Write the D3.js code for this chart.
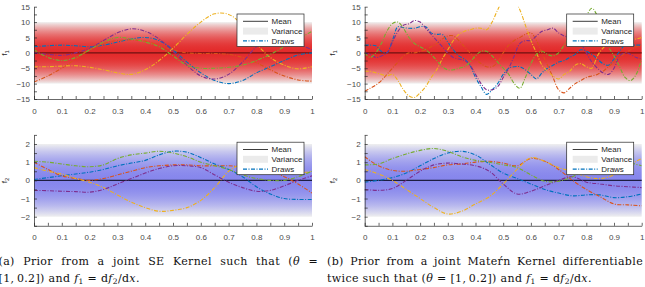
<!DOCTYPE html>
<html>
<head>
<meta charset="utf-8">
<script src="https://cdn.jsdelivr.net/npm/d3@7"></script>
<style>
  body { margin: 0; background: #fff; }
  svg { display: block; }
  text { font-family: "Liberation Sans", Arial, sans-serif; }
  .tick text { fill: #4a4a4a; font-size: 8px; }
  .cap { font-family: "DejaVu Serif", "Liberation Serif", serif; font-size: 11px; letter-spacing: 0.35px; fill: #111; }
</style>
</head>
<body>
<svg id="fig" width="645" height="287"></svg>
<script>
// x grids of the sampled draws
var xCoarse = [0, 0.05, 0.1, 0.15, 0.2, 0.25, 0.3, 0.35, 0.4, 0.45, 0.5,
  0.55, 0.6, 0.65, 0.7, 0.75, 0.8, 0.85, 0.9, 0.95, 1];
var xFine = [0, 0.02, 0.04, 0.06, 0.08, 0.1, 0.12, 0.14, 0.16, 0.18, 0.2,
  0.22, 0.24, 0.26, 0.28, 0.3, 0.32, 0.34, 0.36, 0.38, 0.4,
  0.42, 0.44, 0.46, 0.48, 0.5, 0.52, 0.54, 0.56, 0.58, 0.6,
  0.62, 0.64, 0.66, 0.68, 0.7, 0.72, 0.74, 0.76, 0.78, 0.8,
  0.82, 0.84, 0.86, 0.88, 0.9, 0.92, 0.94, 0.96, 0.98, 1];

var drawNames = ["blue", "orange", "yellow", "purple", "green"];
var drawColors = ["#0072BD", "#D95319", "#EDB120", "#7E2F8E", "#77AC30"];

// (a) SE kernel, f1
var seF1Blue   = [2, 2.3, 2.5, 2.3, 2, 2.5, 3.5, 4.5, 5, 4, 1, -3, -6.5, -9, -10, -9, -6.5, -4.5, -2.5, -0.7, 0];
var seF1Orange = [-9.5, -7.5, -5, -2, 1, 3, 4, 4.2, 3.8, 2.5, 1, 0, -0.2, -0.2, -0.5, -1.5, -3.2, -5.5, -7.5, -8.8, -9.2];
var seF1Yellow = [-4.5, -4.5, -4.3, -4.2, -4.7, -5.5, -6.5, -7, -5.5, -2.5, 1.5, 6, 10, 12.7, 12.5, 9, 3, -1.5, -4, -5.2, -4.5];
var seF1Purple = [0, -0.5, -0.8, 0, 1.5, 4, 6.5, 7.8, 7, 4.5, 0.5, -4, -7.5, -8.5, -7, -3, 2, 5, 5, 3, 1];
var seF1Green  = [1, -1.5, -2.5, -1.5, 1, 3.5, 5, 4.5, 3.5, 2, -1, -4, -5, -5, -4.7, -4, -2.5, -0.5, 2, 4.5, 7];

// (a) SE kernel, f2
var seF2Blue   = [0.05, 0.15, 0.25, 0.35, 0.45, 0.6, 0.8, 0.95, 1.1, 1.4, 1.6, 1.55, 1.25, 0.9, 0.6, 0.2, -0.35, -0.75, -1, -1.05, -1.05];
var seF2Orange = [1, 0.6, 0.25, 0.1, 0, 0.1, 0.3, 0.5, 0.7, 0.8, 0.85, 0.85, 0.8, 0.8, 0.8, 0.75, 0.7, 0.5, 0.2, -0.2, -0.7];
var seF2Yellow = [0.7, 0.5, 0.35, 0.1, -0.1, -0.4, -0.8, -1.2, -1.5, -1.7, -1.65, -1.5, -1.1, -0.4, 0.5, 0.9, 0.9, 0.7, 0.5, 0.4, 0.5];
var seF2Purple = [-0.55, -0.57, -0.6, -0.62, -0.65, -0.5, -0.2, 0.1, 0.4, 0.65, 0.8, 0.8, 0.7, 0.3, -0.1, -0.4, -0.6, -0.55, -0.3, 0, 0.25];
var seF2Green  = [1.05, 1, 0.9, 0.8, 0.75, 0.85, 1.2, 1.4, 1.5, 1.6, 1.5, 1.3, 1, 0.8, 0.6, 0.3, 0.1, 0, 0, 0.2, 0.5];

// (b) Matern kernel, f1
var maF1Blue   = [2.5, 2.5, 2.3, 0.5, 0, 4, 8.5, 8.2, 8, 8, 8.5, 8.5, 6.5, 6, 6, 3.5, 1, -1, -2, -4, -8,
  -11, -13.5, -12, -10, -7, -5, -4.5, -4.5, -5.5, -7, -8.5, -6.5, -5, -4, -3, -2.5, -1.5, -0.5, 1, 0.5,
  -0.5, -2, -3.5, -4, -2, 0.5, 2.5, 2.5, 2.5, 2.5];
var maF1Orange = [-12.5, -11.5, -10.5, -9, -7, -5, -3, -1, 0, 0, 0.5, 1, 2, 3, 4.5, 5.5, 5.5, 4, 2, 0, -2,
  -3.5, -4.5, -4.5, -3, 0, 2.5, 4, 5, 6, 6.5, 4, 0, -4, -8, -12, -13, -11.5, -10, -9, -8,
  -7.5, -7, -6, -4.5, -3, -1.5, 0, 1, 2, 2.5];
var maF1Yellow = [-6, -6, -6.5, -7, -7.5, -7, -9, -12, -14, -14.5, -13, -11, -8, -5.5, -2, 1, 4, 6, 7, 7.5, 8,
  8, 7.5, 10, 14, 17, 17.5, 17, 14, 9, 4, 0, -4, -6, -7.5, -8.5, -7, -6, -4, -3.5, -4.5,
  -5, -1, 1.5, 3, 3, 4, 5, 4.5, 4.5, 5];
var maF1Purple = [0, -0.5, -1.5, -1, 0, 3.5, 7, 9, 9.5, 10.5, 10, 8, 6, 4, 2, 0, -1.5, -2, -2.5, -4, -7,
  -10, -12, -12, -11, -8, -5, -1, 3, 4, 4, 5.5, 7, 7.5, 8, 6.5, 5.5, 5, 4, 3, 0,
  -3, -5, -6.5, -7, -5, -1, 0, -0.5, -1.5, -2];
var maF1Green  = [0, -1.5, 0, 3, 7, 9.5, 10, 8, 5, 3, 2, 1, -0.5, -2.5, -4.5, -5.5, -5.5, -5, -4.5, -3, -1,
  0.5, 0.5, -1, -3, -5, -7, -10, -11.5, -8, -3.5, -0.5, 0.5, -0.5, -1, 0, 2.5, 5, 6, 9, 12,
  14.5, 12, 7, 2, -1, -4.5, -8, -9, -7, -2];

// (b) Matern kernel, f2
var maF2Blue   = [-0.1, 0, 0.15, 0.4, 0.8, 1.2, 1.5, 1.6, 1.4, 0.9, 0.4, 0.1, -0.2, -0.5, -0.7, -0.85, -0.8, -0.8, -0.95, -0.9, -0.75];
var maF2Orange = [1.3, 0.8, 0.55, 0.5, 0.6, 0.7, 0.85, 0.9, 1, 1.05, 0.95, 0.8, 1.2, 1.05, 0.6, 0, -0.5, -0.9, -1.3, -1.35, -1.4];
var maF2Yellow = [0.6, 0.35, 0, -0.5, -1, -1.5, -1.85, -1.7, -1.3, -0.9, -0.2, 0.6, 1.25, 1.05, 0.7, 0.5, 0.2, 0.1, 0.3, 0.8, 1.2];
var maF2Purple = [-0.5, -0.55, -0.45, 0, 0.5, 0.85, 0.95, 0.9, 0.8, 0.5, -0.2, -0.75, -0.6, -0.3, 0, 0.2, -0.1, -0.2, -0.3, -0.35, -0.4];
var maF2Green  = [0.85, 0.9, 1.2, 1.45, 1.65, 1.75, 1.6, 1.3, 1.1, 1, 0.85, 0.7, 0.3, -0.05, -0.05, 0.2, 0.6, 1, 1.2, 1, 0.8];

// axis ticks
var xMajor = [0, 0.1, 0.2, 0.3, 0.4, 0.5, 0.6, 0.7, 0.8, 0.9, 1];
var xMinor = [0.05, 0.15, 0.25, 0.35, 0.45, 0.55, 0.65, 0.75, 0.85, 0.95];
var f1Major = [-15, -10, -5, 0, 5, 10, 15];
var f1Minor = [-12.5, -7.5, -2.5, 2.5, 7.5, 12.5];
var f2Major = [-2, -1, 0, 1, 2];
var f2Minor = [-2.5, -1.5, -0.5, 0.5, 1.5, 2.5];

var legendLabels = ["Mean", "Variance", "Draws"];

var svg = d3.select("#fig");
var defs = svg.append("defs");

var panels = [
  {id: "a1", left: 34, right: 312, top: 6.7, bottom: 99, domain: [-15, 15], band: 10,
   xs: xCoarse, draws: [seF1Blue, seF1Orange, seF1Yellow, seF1Purple, seF1Green],
   yMajor: f1Major, yMinor: f1Minor, sub: "1", bandColor: "rgb(226,28,28)", bandMax: 0.93, meanColor: "#6e1212", labelX: 7},
  {id: "b1", left: 364.7, right: 641.7, top: 6.7, bottom: 99, domain: [-15, 15], band: 10,
   xs: xFine, draws: [maF1Blue, maF1Orange, maF1Yellow, maF1Purple, maF1Green],
   yMajor: f1Major, yMinor: f1Minor, sub: "1", bandColor: "rgb(226,28,28)", bandMax: 0.93, meanColor: "#6e1212", labelX: 335},
  {id: "a2", left: 34, right: 312, top: 134.9, bottom: 225.8, domain: [-2.5, 2.5], band: 2,
   xs: xCoarse, draws: [seF2Blue, seF2Orange, seF2Yellow, seF2Purple, seF2Green],
   yMajor: f2Major, yMinor: f2Minor, sub: "2", bandColor: "rgb(70,70,235)", bandMax: 0.62, meanColor: "#1d1d40", labelX: 7},
  {id: "b2", left: 364.7, right: 641.7, top: 134.9, bottom: 225.8, domain: [-2.5, 2.5], band: 2,
   xs: xCoarse, draws: [maF2Blue, maF2Orange, maF2Yellow, maF2Purple, maF2Green],
   yMajor: f2Major, yMinor: f2Minor, sub: "2", bandColor: "rgb(70,70,235)", bandMax: 0.62, meanColor: "#1d1d40", labelX: 335}
];

panels.forEach(function(p) { drawPanel(p); });

function drawPanel(p) {
  var x = d3.scaleLinear().domain([0, 1]).range([p.left, p.right]);
  var y = d3.scaleLinear().domain(p.domain).range([p.bottom, p.top]);
  var g = svg.append("g");

  defs.append("clipPath").attr("id", "clip-" + p.id)
    .append("rect")
      .attr("x", p.left).attr("y", p.top)
      .attr("width", p.right - p.left).attr("height", p.bottom - p.top);

  // variance band: grey base + colour fading out towards +-band
  var grad = defs.append("linearGradient").attr("id", "grad-" + p.id)
    .attr("gradientUnits", "userSpaceOnUse")
    .attr("x1", 0).attr("x2", 0)
    .attr("y1", y(p.band)).attr("y2", y(-p.band));
  d3.range(0, 1.0001, 0.05).forEach(function(t) {
    var v = 2 * t - 1;
    grad.append("stop").attr("offset", t)
      .attr("stop-color", p.bandColor)
      .attr("stop-opacity", p.bandMax * (1 - v * v));
  });
  g.append("rect")
    .attr("x", x(0)).attr("y", y(p.band))
    .attr("width", x(1) - x(0)).attr("height", y(-p.band) - y(p.band))
    .attr("fill", "#efefef");
  g.append("rect")
    .attr("x", x(0)).attr("y", y(p.band))
    .attr("width", x(1) - x(0)).attr("height", y(-p.band) - y(p.band))
    .attr("fill", "url(#grad-" + p.id + ")");

  // mean
  g.append("line")
    .attr("x1", x(0)).attr("x2", x(1))
    .attr("y1", y(0)).attr("y2", y(0))
    .attr("stroke", p.meanColor).attr("stroke-width", 1.1);

  // draws
  var line = d3.line()
    .x(function(d, i) { return x(p.xs[i]); })
    .y(function(d) { return y(d); })
    .curve(d3.curveCatmullRom);
  g.append("g").attr("clip-path", "url(#clip-" + p.id + ")")
    .selectAll("path.draw")
    .data(p.draws)
    .enter().append("path")
      .attr("class", "draw")
      .attr("d", line)
      .attr("fill", "none")
      .attr("stroke", function(d, i) { return drawColors[i]; })
      .attr("stroke-width", 1.1)
      .attr("stroke-dasharray", "4,1.5,1,1.5");

  // axes (box off, ticks pointing in)
  g.append("g").attr("transform", "translate(0," + p.bottom + ")")
    .call(d3.axisBottom(x).tickValues(xMajor).tickFormat(d3.format("")).tickSize(-3).tickSizeOuter(0).tickPadding(9));
  g.append("g").attr("transform", "translate(0," + p.bottom + ")")
    .call(d3.axisBottom(x).tickValues(xMinor).tickFormat("").tickSize(-3).tickSizeOuter(0))
    .select(".domain").remove();
  g.append("g").attr("transform", "translate(" + p.left + ",0)")
    .call(d3.axisLeft(y).tickValues(p.yMajor).tickFormat(d3.format("")).tickSize(-3).tickSizeOuter(0).tickPadding(4));
  g.append("g").attr("transform", "translate(" + p.left + ",0)")
    .call(d3.axisLeft(y).tickValues(p.yMinor).tickFormat("").tickSize(-3).tickSizeOuter(0))
    .select(".domain").remove();
  g.selectAll(".domain, .tick line").attr("stroke", "#262626").attr("stroke-width", 0.7);

  // y label
  var lab = g.append("text")
    .attr("transform", "translate(" + p.labelX + "," + y(0) + ") rotate(-90)")
    .attr("text-anchor", "middle")
    .attr("font-size", 8).attr("fill", "#262626");
  lab.append("tspan").text("f");
  lab.append("tspan").attr("font-size", 6).attr("dy", 2).text(p.sub);

  // legend
  var lx = p.right - 75, ly = p.top + 7.3;
  var lg = g.append("g").attr("transform", "translate(" + lx + "," + ly + ")");
  lg.append("rect").attr("width", 67).attr("height", 32.5)
    .attr("fill", "#fff").attr("stroke", "#262626").attr("stroke-width", 0.7);
  legendLabels.forEach(function(lbl, i) {
    var cy = 7.3 + i * 9.8;
    if (i === 0) {
      lg.append("line").attr("x1", 6).attr("x2", 31).attr("y1", cy).attr("y2", cy)
        .attr("stroke", "#262626").attr("stroke-width", 0.9);
    } else if (i === 1) {
      lg.append("rect").attr("x", 6).attr("y", cy - 3.5).attr("width", 25).attr("height", 7)
        .attr("fill", "#ebebeb");
    } else {
      lg.append("line").attr("x1", 6).attr("x2", 31).attr("y1", cy).attr("y2", cy)
        .attr("stroke", drawColors[0]).attr("stroke-width", 1.1)
        .attr("stroke-dasharray", "4,1.5,1,1.5");
    }
    lg.append("text").attr("x", 34.5).attr("y", cy).attr("dy", "0.35em")
      .attr("font-size", 8).attr("fill", "#262626").text(lbl);
  });
}

// captions
function mathTail(t) {
  t.append("tspan").text(" and ");
  t.append("tspan").attr("font-style", "italic").text("f");
  t.append("tspan").attr("font-size", 7.5).attr("dy", 2).text("1");
  t.append("tspan").attr("dy", -2).text(" = d");
  t.append("tspan").attr("font-style", "italic").text("f");
  t.append("tspan").attr("font-size", 7.5).attr("dy", 2).text("2");
  t.append("tspan").attr("dy", -2).text("/d");
  t.append("tspan").attr("font-style", "italic").text("x");
  t.append("tspan").text(".");
}

// stretch the inter-word spaces so a line fills the column
function justify(sel, width) {
  var n = sel.node();
  var w = n.getComputedTextLength();
  var spaces = (n.textContent.match(/ /g) || []).length;
  if (spaces) sel.attr("word-spacing", (width - w) / spaces);
}

var c1 = svg.append("text").attr("class", "cap").attr("x", -1.5).attr("y", 264.5);
c1.append("tspan").text("(a) Prior from a joint SE Kernel such that (");
c1.append("tspan").attr("font-style", "italic").text("θ");
c1.append("tspan").text(" =");
justify(c1, 319.5);

var c2 = svg.append("text").attr("class", "cap").attr("x", -1.5).attr("y", 281.7);
c2.append("tspan").text("[1,\u20090.2])");
mathTail(c2);

var c3 = svg.append("text").attr("class", "cap").attr("x", 327).attr("y", 264.5);
c3.text("(b) Prior from a joint Mateŕn Kernel differentiable");
justify(c3, 316);

var c4 = svg.append("text").attr("class", "cap").attr("x", 327).attr("y", 281.7);
c4.append("tspan").text("twice such that (");
c4.append("tspan").attr("font-style", "italic").text("θ");
c4.append("tspan").text(" = [1,\u20090.2])");
mathTail(c4);
</script>
</body>
</html>
